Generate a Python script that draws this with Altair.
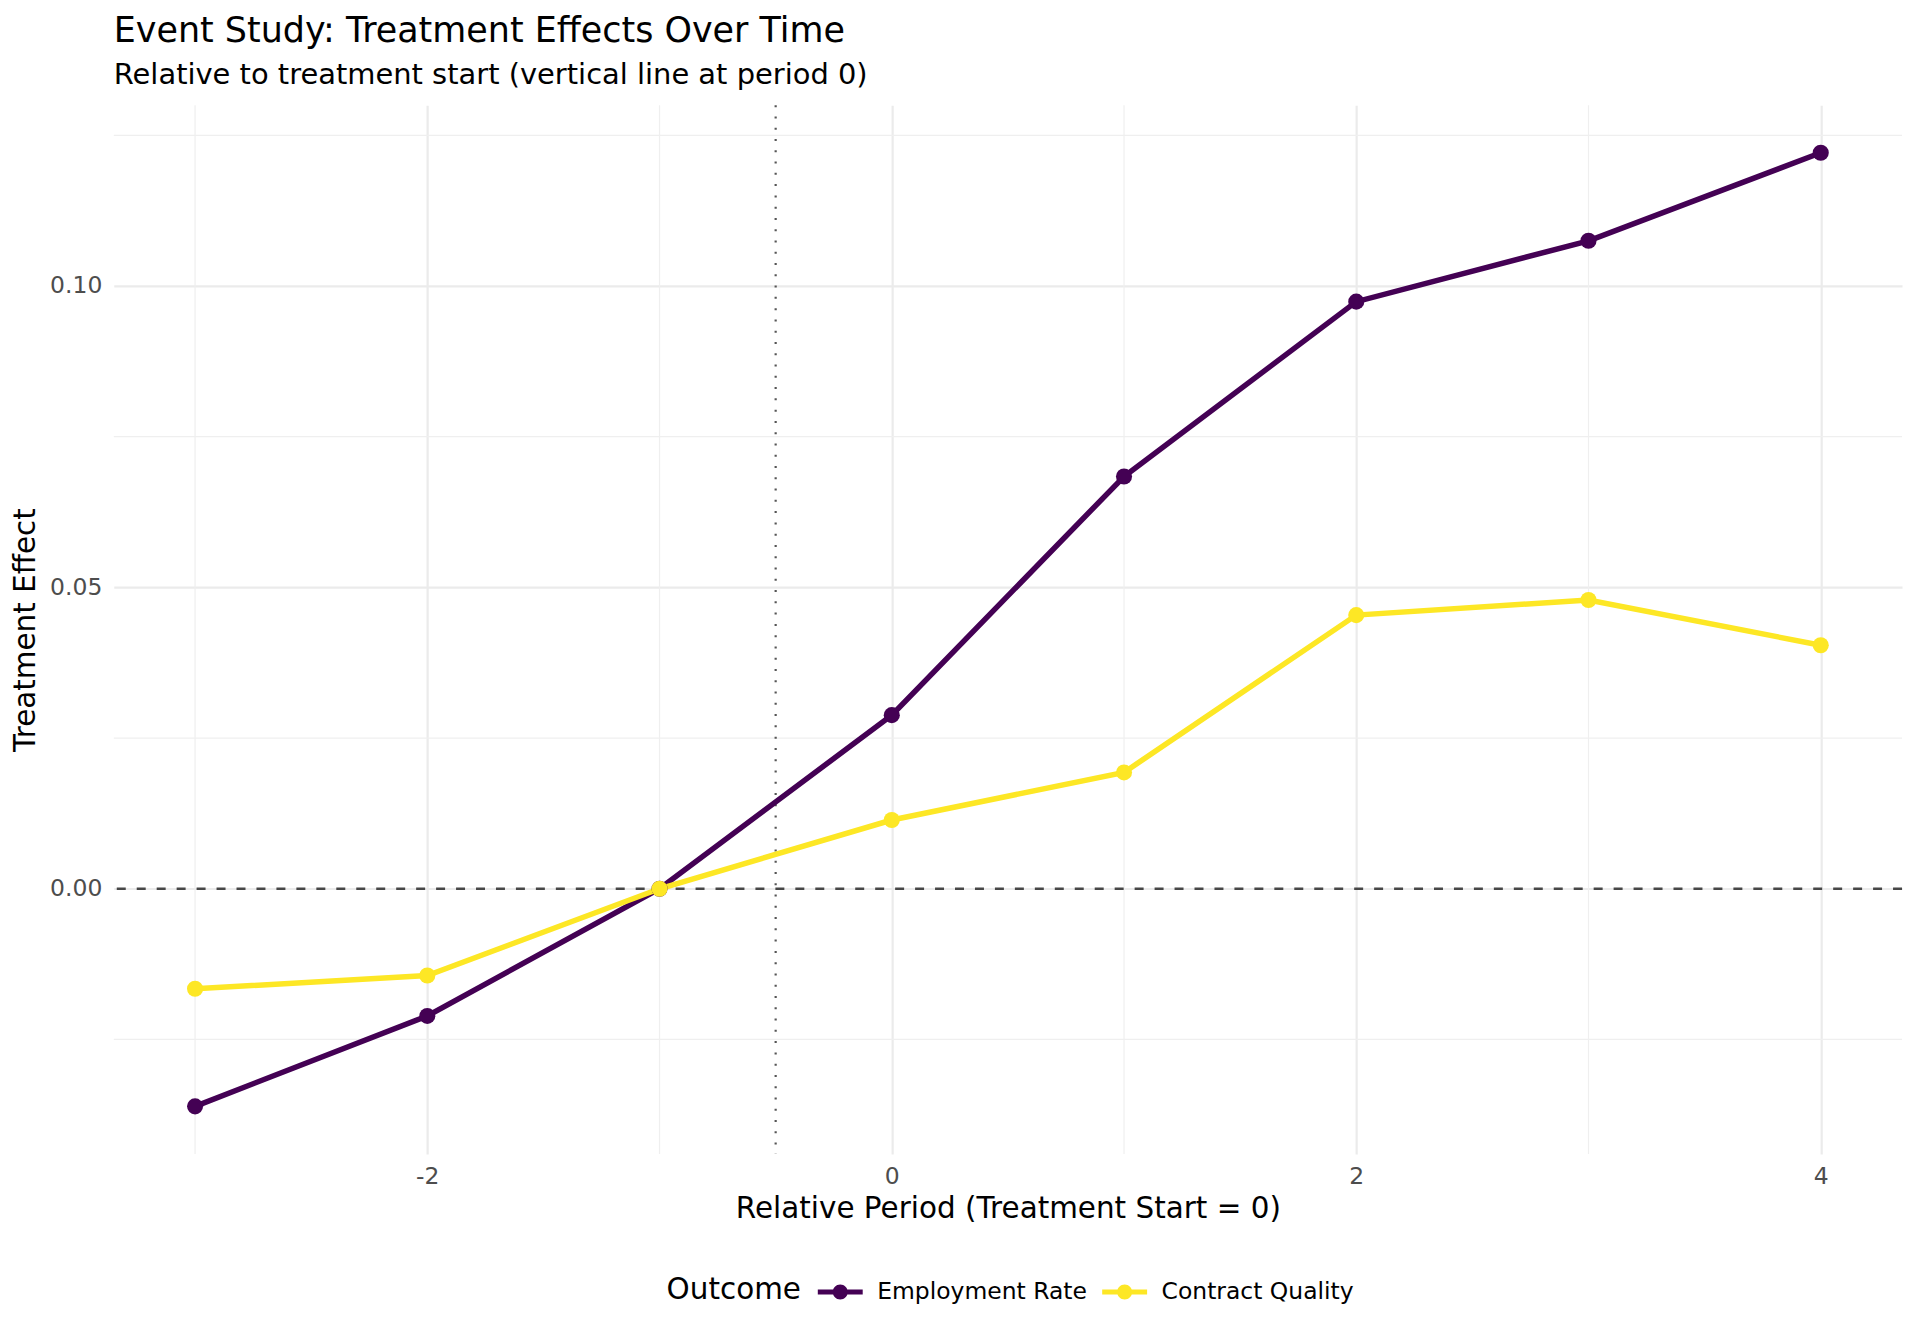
import altair as alt
import pandas as pd

periods = [-3, -2, -1, 0, 1, 2, 3, 4]
employment = [-0.0361, -0.0211, 0.0, 0.0288, 0.0684, 0.0974, 0.1075, 0.1221]
contract = [-0.0166, -0.0144, 0.0, 0.0114, 0.0193, 0.0454, 0.0479, 0.0404]
outcomes = ["Employment Rate", "Contract Quality"]
colors = ["#440154", "#FDE725"]
x_major = [-2, 0, 2, 4]
x_minor = [-3, -1, 1, 3]
y_major = [0.0, 0.05, 0.10]
y_minor = [-0.025, 0.025, 0.075, 0.125]
ref_h = [0.0]
ref_v = [-0.5]

rows = []
for p, e in zip(periods, employment):
    rows.append({"period": p, "effect": e, "Outcome": outcomes[0]})
for p, c in zip(periods, contract):
    rows.append({"period": p, "effect": c, "Outcome": outcomes[1]})
df = pd.DataFrame(rows)

xs = alt.Scale(domain=[-3.35, 4.35], nice=False, zero=False)
ys = alt.Scale(domain=[-0.0440, 0.1300], nice=False, zero=False)
cs = alt.Scale(domain=outcomes, range=colors)

xaxis = alt.Axis(values=x_major, title="Relative Period (Treatment Start = 0)",
                 labelExpr="'' + datum.value",
                 grid=True, gridColor="#EBEBEB", gridWidth=2.2, domain=False, ticks=False,
                 labelFontSize=23.5, labelColor="#4D4D4D", labelPadding=11,
                 titleFontSize=29.5, titleFontWeight="normal", titleColor="#000000", titlePadding=6)
yaxis = alt.Axis(values=y_major, format=".2f", title="Treatment Effect",
                 grid=True, gridColor="#EBEBEB", gridWidth=2.2, domain=False, ticks=False,
                 labelFontSize=23.5, labelColor="#4D4D4D", labelPadding=12,
                 titleFontSize=29.5, titleFontWeight="normal", titleColor="#000000", titlePadding=9)

legend_path = ("M-1.5,-0.17 L-0.4,-0.17 L-0.4,0.17 L-1.5,0.17 Z "
               "M0.4,-0.17 L1.5,-0.17 L1.5,0.17 L0.4,0.17 Z "
               "M0.5,0 A0.5,0.5 0 1,1 -0.5,0 A0.5,0.5 0 1,1 0.5,0 Z")

legend = alt.Legend(
    title="Outcome", orient="none", direction="horizontal", titleOrient="left",
    legendX=554, legendY=1174,
    symbolType=legend_path, symbolSize=900, symbolStrokeWidth=0, symbolOpacity=1,
    labelFontSize=23.5, labelColor="#000000", labelLimit=500, titleFontSize=29.5,
    titleFontWeight="normal", titleColor="#000000", columnPadding=14, symbolOffset=0,
    labelOffset=22, titlePadding=24, titleBaseline="middle")

base = alt.Chart(df)

minor_x = alt.Chart(pd.DataFrame({"x": x_minor})).mark_rule(color="#EFEFEF", strokeWidth=1.2).encode(
    x=alt.X("x:Q", scale=xs, axis=xaxis))
minor_y = alt.Chart(pd.DataFrame({"y": y_minor})).mark_rule(color="#EFEFEF", strokeWidth=1.2).encode(
    y=alt.Y("y:Q", scale=ys, axis=yaxis))

hline = alt.Chart(pd.DataFrame({"y": ref_h})).mark_rule(color="#474747", strokeWidth=2.3, strokeDash=[9, 11]).encode(
    y=alt.Y("y:Q", scale=ys, axis=yaxis))
vline = alt.Chart(pd.DataFrame({"x": ref_v})).mark_rule(color="#555555", strokeWidth=2.2, strokeDash=[2, 9.3]).encode(
    x=alt.X("x:Q", scale=xs, axis=xaxis))

lines = base.mark_line(strokeWidth=5.5).encode(
    x=alt.X("period:Q", scale=xs, axis=xaxis),
    y=alt.Y("effect:Q", scale=ys, axis=yaxis),
    color=alt.Color("Outcome:N", scale=cs, legend=legend),
    detail="Outcome:N",
)

points = base.mark_point(filled=True, size=260, opacity=1).encode(
    x=alt.X("period:Q", scale=xs, axis=xaxis),
    y=alt.Y("effect:Q", scale=ys, axis=yaxis),
    color=alt.Color("Outcome:N", scale=cs, legend=legend),
)

chart = alt.layer(minor_x, minor_y, hline, vline, lines, points).properties(
    width=1792, height=1051,
    title=alt.TitleParams(
        text="Event Study: Treatment Effects Over Time",
        subtitle="Relative to treatment start (vertical line at period 0)",
        anchor="start", fontSize=35, fontWeight="normal", color="#000000",
        subtitleFontSize=29, subtitleColor="#000000", subtitlePadding=12, offset=14,
        font="DejaVu Sans", subtitleFont="DejaVu Sans", frame="group"),
    padding={"left": 2, "top": 4, "right": 8, "bottom": 10},
).configure(font="DejaVu Sans").configure_view(stroke=None)

chart.save("out.html", embed_options={"renderer": "svg", "actions": False})
